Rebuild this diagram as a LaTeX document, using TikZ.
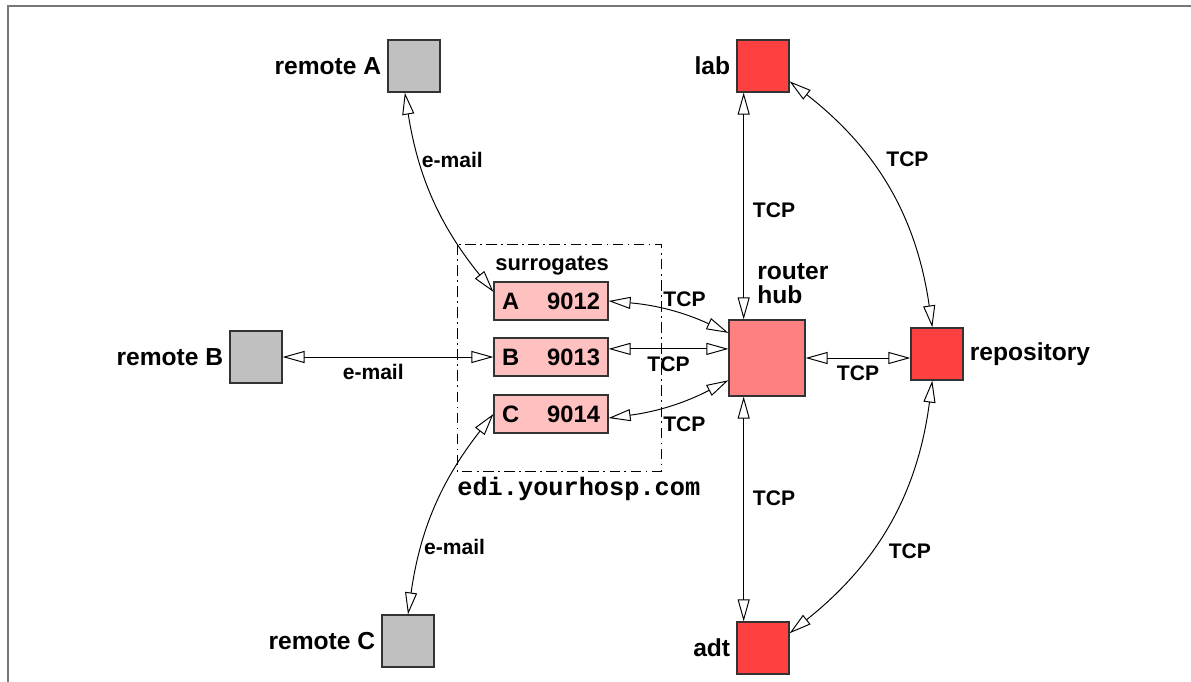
\documentclass[tikz,border=0pt]{standalone}
\usepackage{fontspec}
\setmainfont{Liberation Sans}
\setmonofont{Liberation Mono}
\usetikzlibrary{arrows.meta,calc}

\definecolor{remgray}{HTML}{C0C0C0}
\definecolor{sitered}{HTML}{FF4040}
\definecolor{hubred}{HTML}{FF8080}
\definecolor{surpink}{HTML}{FFC0C0}
\definecolor{framegray}{HTML}{777777}

\tikzset{
  host/.style={draw=black!80, line width=0.7pt, minimum size=1.04cm, inner sep=0pt},
  remote/.style={host, fill=remgray},
  site/.style={host, fill=sitered},
  hubbox/.style={host, fill=hubred, minimum size=1.52cm},
  surbox/.style={host, fill=surpink, minimum width=2.28cm, minimum height=0.76cm,
    inner xsep=0.16cm, text width=1.96cm, font=\fontsize{13.5}{15}\selectfont\bfseries},
  link/.style={line width=0.55pt,
    {Triangle[open,length=0.44cm,width=0.24cm]}-{Triangle[open,length=0.44cm,width=0.24cm]}},
  lbl/.style={font=\fontsize{14}{16}\selectfont\bfseries},
  tag/.style={font=\fontsize{12}{14}\selectfont\bfseries, inner sep=1pt},
}

\begin{document}
\begin{tikzpicture}[x=0.02cm, y=-0.02cm]
\useasboundingbox (0,0) rectangle (1191,682);
\draw[framegray, line width=1.2pt] (8,682) -- (8,6) -- (1191,6);

% hosts
\node[remote, label={[lbl]left:remote A}] (remA) at (414,66) {};
\node[remote, label={[lbl]left:remote B}] (remB) at (256,357) {};
\node[remote, label={[lbl]left:remote C}] (remC) at (408,641) {};
\node[site, label={[lbl]left:lab}] (lab) at (763,66) {};
\node[site, label={[lbl]right:repository}] (repo) at (937,354) {};
\node[site, label={[lbl]left:adt}] (adt) at (763,648) {};
\node[hubbox] (hub) at (767,358) {};
\node[lbl, align=left, anchor=south west, inner sep=0pt] (hubname) at ($(hub.north)+(-10,-15)$) {router\\[-2pt]hub};

% surrogates on edi.yourhosp.com
\draw[line width=0.5pt, dash pattern=on 6pt off 2.5pt on 1pt off 2.5pt] (457,244) rectangle (661,471);
\node[anchor=south west, inner sep=0pt, font=\fontsize{12.5}{14}\selectfont\bfseries] (surname) at (495,276) {surrogates};
\node[surbox] (surA) at (551,301) {A\hfill 9012};
\node[surbox] (surB) at (551,357) {B\hfill 9013};
\node[surbox] (surC) at (551,414) {C\hfill 9014};
\node[anchor=west, inner sep=0pt, font=\fontsize{14.4}{16}\selectfont\ttfamily\bfseries] (edi) at (457,489) {edi.yourhosp.com};

% e-mail links
\draw[link] (remA.251) to[bend right=15] node[tag, right, pos=0.3]{e-mail} (surA.171);
\draw[link] (remB.east) -- node[tag, below=3pt, pos=0.43]{e-mail} (surB.west);
\draw[link] (remC.north) to[bend left=15] node[tag, right, pos=0.3]{e-mail} (surC.west);

% TCP links
\draw[link] (surA.east) to[bend left=10] node[tag, above right, pos=0.42]{TCP} (hub.147);
\draw[link] (surB.8) -- node[tag, below=3pt]{TCP} (surB.8 -| hub.west);
\draw[link] (surC.-4) to[bend right=10] node[tag, below right=3pt, pos=0.37]{TCP} (hub.210);
\draw[link] (lab.234) -- node[tag, right=4pt, pos=0.52]{TCP} (lab.234 |- hub.north);
\draw[link] (lab.234 |- hub.south) -- node[tag, right=4pt, pos=0.45]{TCP} (lab.234 |- adt.north);
\draw[link] (hub.east) -- node[tag, below=3pt]{TCP} (hub.east -| repo.west);
\draw[link] (lab.-30) to[bend left=22] node[tag, right=9pt, pos=0.37]{TCP} (repo.100);
\draw[link] (repo.260) to[bend left=22] node[tag, right=9pt, pos=0.62]{TCP} (adt.29);
\end{tikzpicture}
\end{document}
